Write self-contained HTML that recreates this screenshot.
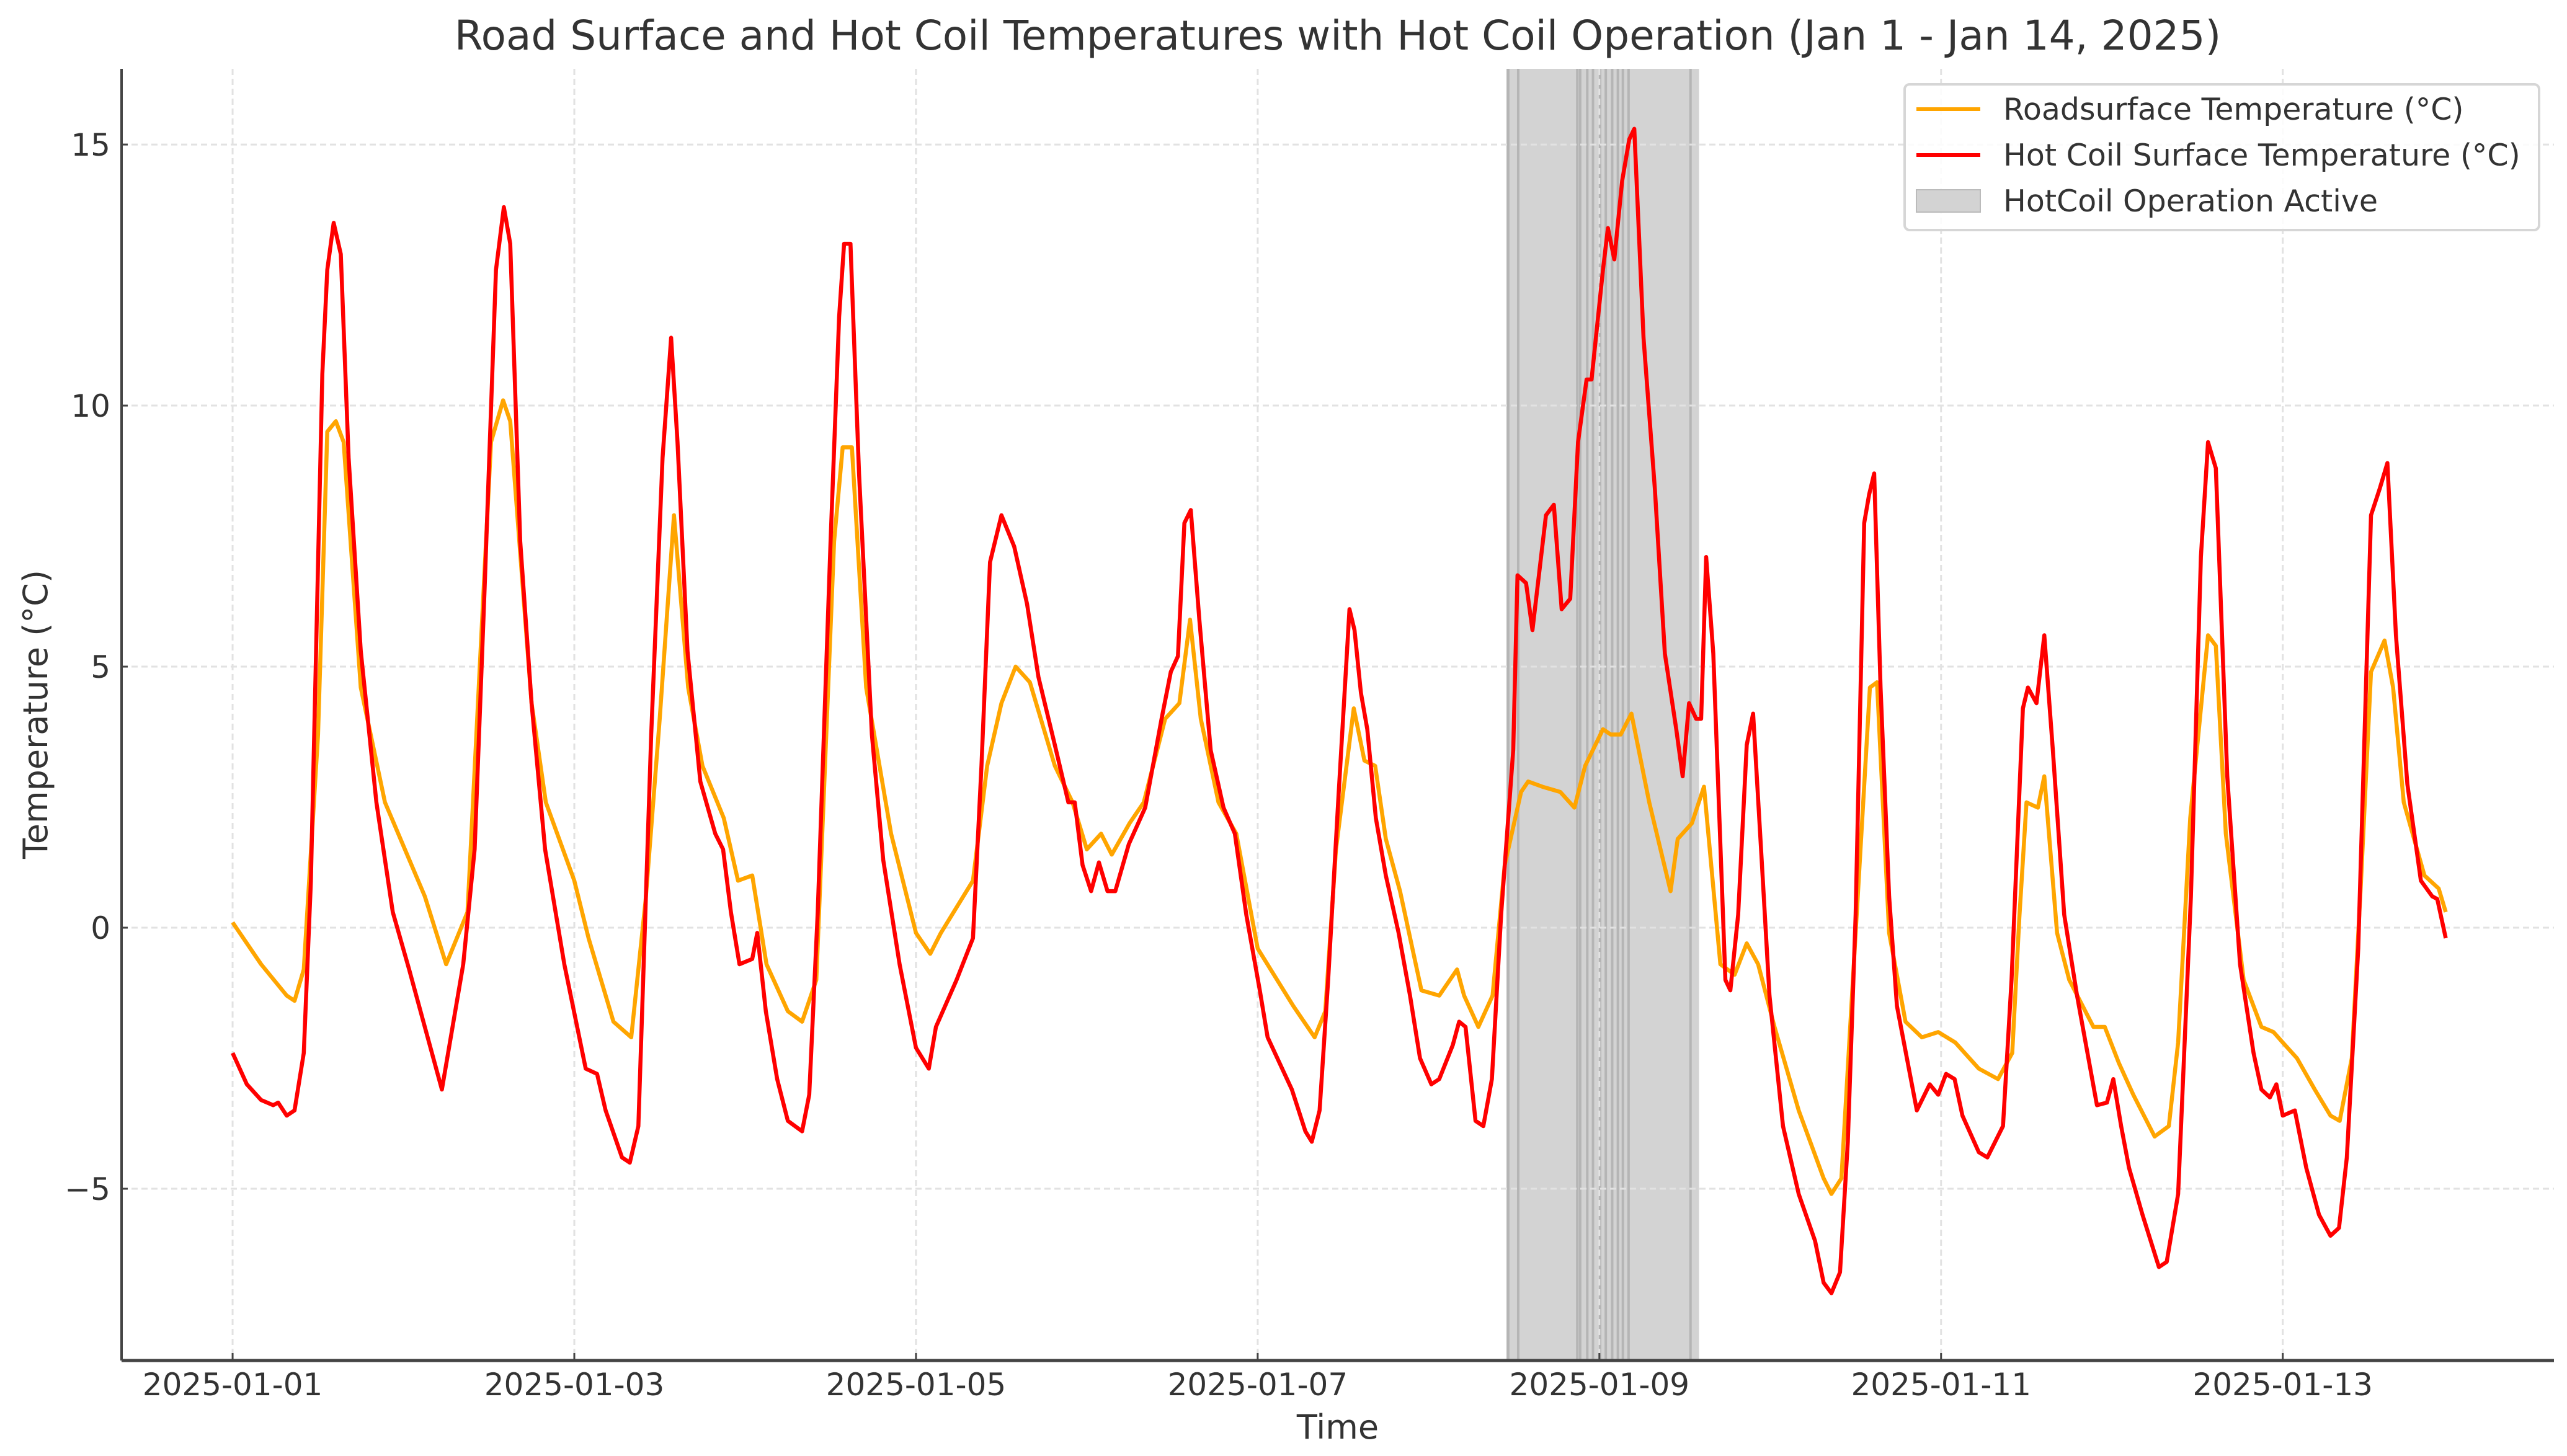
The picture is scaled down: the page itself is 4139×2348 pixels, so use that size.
<!DOCTYPE html>
<html><head><meta charset="utf-8"><style>
html,body{margin:0;padding:0;background:#fff;}
svg{display:block;font-family:"DejaVu Sans","Liberation Sans",sans-serif;}
</style></head><body>
<svg id="chart" width="4139" height="2348" viewBox="0 0 4139 2348" xmlns="http://www.w3.org/2000/svg">
<rect width="4139" height="2348" fill="#fff"/>
<g id="spans"></g>
<g id="grid"></g>
<g id="series"></g>
<g id="axes"></g>
<text x="2157" y="80" font-size="66" fill="#333" text-anchor="middle">Road Surface and Hot Coil Temperatures with Hot Coil Operation (Jan 1 - Jan 14, 2025)</text>
<text x="2157" y="2320" font-size="54" fill="#333" text-anchor="middle">Time</text>
<text x="0" y="0" font-size="54" fill="#333" text-anchor="middle" transform="translate(76,1152) rotate(-90)">Temperature (°C)</text>
<g>
<rect x="3071" y="136" width="1023" height="235" rx="8" fill="#fff" fill-opacity="0.85" stroke="#d6d6d6" stroke-width="4"/>
<line x1="3090" y1="176" x2="3193" y2="176" stroke="#ffa500" stroke-width="6"/>
<text x="3230" y="193" font-size="49" fill="#333">Roadsurface Temperature (°C)</text>
<line x1="3090" y1="250" x2="3193" y2="250" stroke="#ff0000" stroke-width="6"/>
<text x="3230" y="267" font-size="49" fill="#333">Hot Coil Surface Temperature (°C)</text>
<rect x="3090" y="306" width="103" height="36" fill="#d3d3d3" stroke="#bbb" stroke-width="2"/>
<text x="3230" y="341" font-size="49" fill="#333">HotCoil Operation Active</text>
</g>
</svg>
<script>
const roadHours=[0,4,7.6,8.7,10,12,13.3,14.5,15.6,18,21.4,27,30,33,36.3,38,39,42,44,48,50,53.5,56,58,60,62,64,66,69,71,73,75,78,80,82,84.5,85.7,87,89,92.5,96,98,99.5,104,106,108,110,112,115.5,118,120,122,123.5,126,128,131,133,134.5,136,138.5,141,144,149,152,153.5,155,157.5,159,160.5,162,164,167,169.5,172,173,175,177,178.7,181,182,184,186.5,188.5,190,192.5,193.6,195,196.5,199,202,203,205,206.7,209,211,212.7,214.3,216.6,220,223.5,224.6,226,228,230,231,232.7,235,237.3,239.6,242,245.3,248,250,251,252,253.6,254.5,256.3,258,261.4,263,265,267,270,272,273.3,275,277.5,278.6,280,282.5,285,286.7,288,290,292.5,294.7,296,297.7,299,300.4,302.3,303.5,305,307.9,309.9,310.9];
const roadTemps=[0.1,-0.7,-1.3,-1.4,-0.8,3.7,9.5,9.7,9.3,4.6,2.4,0.6,-0.7,0.3,9.3,10.1,9.7,4.3,2.4,0.9,-0.2,-1.8,-2.1,0.5,4,7.9,4.6,3.1,2.1,0.9,1.0,-0.7,-1.6,-1.8,-1.0,7.4,9.2,9.2,4.6,1.8,-0.1,-0.5,-0.1,0.9,3.1,4.3,5.0,4.7,3.1,2.4,1.5,1.8,1.4,2.0,2.4,4.0,4.3,5.9,4.0,2.4,1.8,-0.4,-1.5,-2.1,-1.6,1.5,4.2,3.2,3.1,1.7,0.7,-1.2,-1.3,-0.8,-1.3,-1.9,-1.3,1.2,2.6,2.8,2.7,2.6,2.3,3.1,3.8,3.7,3.7,4.1,2.4,0.7,1.7,2.0,2.7,-0.7,-0.9,-0.3,-0.7,-1.9,-3.5,-4.8,-5.1,-4.8,-0.1,4.6,4.7,-0.1,-1.8,-2.1,-2.0,-2.2,-2.7,-2.9,-2.4,0.2,2.4,2.3,2.9,-0.1,-1.0,-1.9,-1.9,-2.6,-3.2,-4.0,-3.8,-2.2,2.1,5.6,5.4,1.8,-1.0,-1.9,-2.0,-2.2,-2.5,-3.1,-3.6,-3.7,-2.5,0.9,4.9,5.5,4.6,2.4,1.0,0.75,0.3];
const coilHours=[0,2,4,5.7,6.4,7.6,8.7,10,11,12.6,13.3,14.2,15.2,16.3,18,20.2,22.5,24.8,29.4,32.4,34,35.4,37,38.1,39,40.4,42,43.9,46.6,49.6,51.2,52.4,54.7,55.8,57,58.8,60.4,61.6,62.5,63.9,65.7,67.8,68.9,70,71.2,73,73.7,74.9,76.5,78,80,81,82.2,84,85.2,85.9,86.8,88,89.8,91.4,93.7,96,97.8,98.8,101.7,104,105.2,106.4,108,109.8,111.6,113.2,115.5,117.4,118.3,119.4,120.6,121.7,122.9,124,125.9,128.2,130.5,131.8,132.8,133.7,134.6,135.8,137.4,139.2,140.8,142.4,144.3,145.4,148.8,150.7,151.6,152.7,153.9,155.3,156.9,157.6,158.5,159.4,160.6,162,163.8,165.4,166.8,168.4,169.5,171.4,172.3,173.2,174.6,175.7,176.9,178.2,179.9,180.5,181.7,182.6,184.5,185.6,186.7,187.9,189,190.2,190.9,192.5,193.2,194.1,195.2,196.2,196.9,198.2,199.8,201.2,202.8,203.7,204.6,205.6,206.3,207,208,209.7,210.4,211.5,212.7,213.6,214.8,215.9,217.8,220,222.3,223.5,224.6,225.8,226.9,228,229.2,229.9,230.6,231.5,232.7,233.8,236.6,238.4,239.6,240.7,241.9,243,245.3,246.5,248.7,249.9,251.5,252.2,253.4,254.5,255.7,257.3,259.1,261.9,263.3,264.2,265.3,266.4,268.3,270.6,271.7,273.3,275.1,276.5,277.5,278.6,280.2,282,283.9,285,286.2,287.1,288,289.7,291.3,293.1,294.7,295.9,297,298.6,300.4,301.6,302.7,303.9,305.5,307.4,309,309.7,310.9];
const coilTemps=[-2.4,-3.0,-3.3,-3.4,-3.35,-3.6,-3.5,-2.4,0.9,10.6,12.6,13.5,12.9,9.0,5.3,2.4,0.3,-0.8,-3.1,-0.7,1.5,6.5,12.6,13.8,13.1,7.4,4.3,1.5,-0.7,-2.7,-2.8,-3.5,-4.4,-4.5,-3.8,3.7,9.0,11.3,9.3,5.3,2.8,1.8,1.5,0.3,-0.7,-0.6,-0.1,-1.6,-2.9,-3.7,-3.9,-3.2,0.3,7.4,11.7,13.1,13.1,8.7,3.7,1.3,-0.7,-2.3,-2.7,-1.9,-1.0,-0.2,3.1,7.0,7.9,7.3,6.2,4.8,3.5,2.4,2.4,1.2,0.7,1.25,0.7,0.7,1.6,2.3,4.0,4.9,5.2,7.75,8.0,5.9,3.4,2.3,1.8,0.25,-1.2,-2.1,-3.1,-3.9,-4.1,-3.5,-1.0,2.4,6.1,5.7,4.5,3.8,2.1,1.0,-0.1,-1.3,-2.5,-3.0,-2.9,-2.25,-1.8,-1.9,-3.7,-3.8,-2.9,0.25,3.4,6.75,6.6,5.7,7.9,8.1,6.1,6.3,9.3,10.5,10.5,12.6,13.4,12.8,14.3,15.1,15.3,11.3,8.4,5.25,3.8,2.9,4.3,4.0,4.0,7.1,5.25,-1.0,-1.2,0.25,3.5,4.1,1.3,-1.3,-3.8,-5.1,-6.0,-6.8,-7.0,-6.6,-4.1,0.25,7.75,8.3,8.7,4.6,0.6,-1.5,-3.5,-3.0,-3.2,-2.8,-2.9,-3.6,-4.3,-4.4,-3.8,-1.0,4.2,4.6,4.3,5.6,3.4,0.25,-1.3,-3.4,-3.35,-2.9,-3.8,-4.6,-5.5,-6.5,-6.4,-5.1,0.6,7.1,9.3,8.8,2.9,-0.7,-2.4,-3.1,-3.25,-3.0,-3.6,-3.5,-4.6,-5.5,-5.9,-5.75,-4.4,-0.4,7.9,8.4,8.9,5.6,2.75,0.9,0.6,0.55,-0.2];
const activeStart=[178.9];
const activeEnd=[206.0];
const activeMarks=[179.2,180.6,188.9,189.3,190.3,191.1,192.1,192.9,193.8,194.6,195.3,196.1,204.8];
const xTickLabels=["2025-01-01","2025-01-03","2025-01-05","2025-01-07","2025-01-09","2025-01-11","2025-01-13"];
const xTickHours=[0,48,96,144,192,240,288];
const yTicks=[-5,0,5,10,15];

const NS="http://www.w3.org/2000/svg";
const L=196,R=4118,T=111,B=2194;
const xMin=-15.6,xMax=326.1,yMin=-8.29,yMax=16.45;
const X=h=>L+(h-xMin)/(xMax-xMin)*(R-L);
const Y=v=>B-(v-yMin)/(yMax-yMin)*(B-T);
function mk(tag,attrs,parent){const e=document.createElementNS(NS,tag);for(const k in attrs)e.setAttribute(k,attrs[k]);parent.appendChild(e);return e;}

const spans=document.getElementById('spans');
for(let i=0;i<activeStart.length;i++){
  const r=mk('rect',{x:X(activeStart[i]),y:T,width:X(activeEnd[i])-X(activeStart[i]),height:B-T,fill:'#d3d3d3'},spans);
  
  
}
activeMarks.forEach(h=>{
  const l=mk('line',{x1:X(h),x2:X(h),y1:T,y2:B,stroke:'#b5b5b5','stroke-width':4},spans);
  
  
});

const grid=document.getElementById('grid');
const axes=document.getElementById('axes');
xTickHours.forEach((h,i)=>{
  const g=mk('line',{x1:X(h),x2:X(h),y1:T,y2:B,stroke:'#e2e2e2','stroke-width':3,'stroke-dasharray':'10,6'},grid);
  
  
  const t=mk('line',{x1:X(h),x2:X(h),y1:B,y2:B-12,stroke:'#444','stroke-width':3},axes);
  
  
  const tx=mk('text',{x:X(h),y:B+56,'font-size':50,fill:'#333','text-anchor':'middle'},axes);
  tx.textContent=xTickLabels[i];
  
  
});
yTicks.forEach(v=>{
  const g=mk('line',{x1:L,x2:R,y1:Y(v),y2:Y(v),stroke:'#e2e2e2','stroke-width':3,'stroke-dasharray':'10,6'},grid);
  
  
  const t=mk('line',{x1:L,x2:L+10,y1:Y(v),y2:Y(v),stroke:'#444','stroke-width':3},axes);
  
  
  const tx=mk('text',{x:L-18,y:Y(v)+18,'font-size':50,fill:'#333','text-anchor':'end'},axes);
  tx.textContent=v<0?'\u2212'+Math.abs(v):String(v);
  
  
});
const sl=mk('line',{x1:L,x2:L,y1:T,y2:B,stroke:'#444','stroke-width':4},axes);


const sb=mk('line',{x1:L,x2:R,y1:B,y2:B,stroke:'#444','stroke-width':5},axes);



const series=document.getElementById('series');
function pts(hs,vs){return hs.map((h,i)=>X(h).toFixed(1)+','+Y(vs[i]).toFixed(1)).join(' ');}
const road=mk('polyline',{points:pts(roadHours,roadTemps),fill:'none',stroke:'#ffa500','stroke-width':6.5,'stroke-linejoin':'round'},series);


const coil=mk('polyline',{points:pts(coilHours,coilTemps),fill:'none',stroke:'#ff0000','stroke-width':6.5,'stroke-linejoin':'round'},series);


</script>
</body></html>
